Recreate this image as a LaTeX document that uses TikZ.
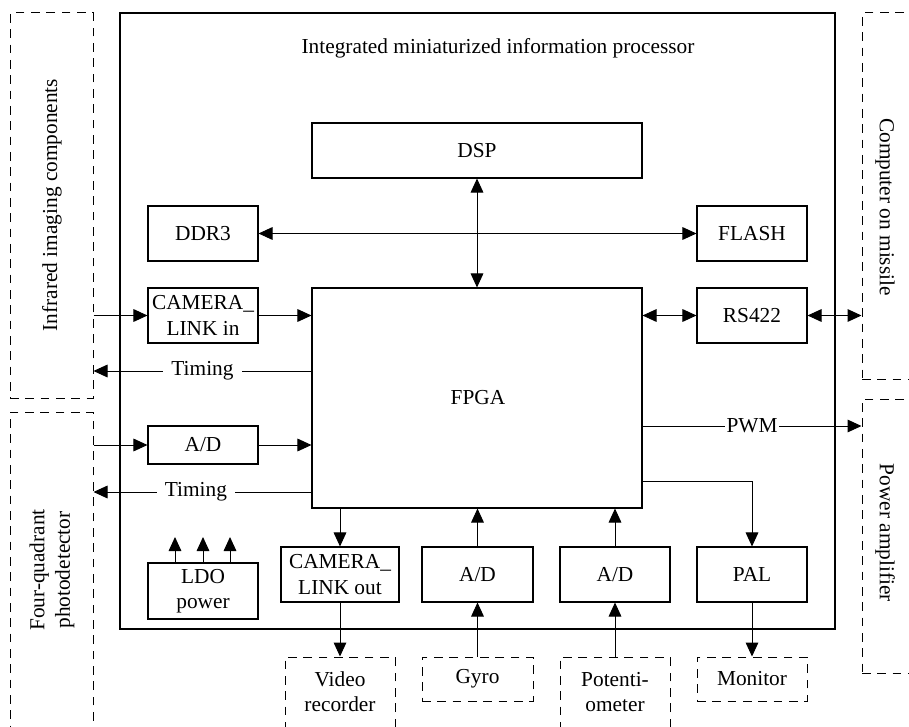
\documentclass[tikz,border=0pt]{standalone}
\usepackage{fontspec}
\setmainfont{Liberation Serif}
\usetikzlibrary{arrows.meta,calc}
\begin{document}
\begin{tikzpicture}[x=0.75pt,y=-0.75pt,
  every node/.style={font=\fontsize{16}{19}\selectfont},
  blk/.style={draw,line width=0.8pt,minimum width=82.5pt,minimum height=41.25pt,inner sep=1pt,align=center},
  ext/.style={draw,dashed,dash pattern=on 6.5pt off 5pt,line width=0.75pt,inner sep=0pt,align=center},
  conn/.style={line width=0.75pt,-{Triangle[length=10.5pt,width=9.5pt]}},
  bconn/.style={line width=0.75pt,{Triangle[length=10.5pt,width=9.5pt]}-{Triangle[length=10.5pt,width=9.5pt]}},
  lbl/.style={fill=white,inner ysep=3pt,inner xsep=6pt}]
\clip (0,0) rectangle (909,727);
\fill[white] (0,0) rectangle (909,727);
% main processor box
\node[draw,line width=0.8pt,minimum width=536.25pt,minimum height=462pt,inner sep=0pt] (proc) at (477.5,321) {};
\node (proct) at (498,48) {Integrated miniaturized information processor};
% inner blocks
\node[blk,minimum width=247.5pt] (dsp) at (477,150.5) {DSP};
\node[blk] (ddr) at (203,233.5) {DDR3};
\node[blk] (flash) at (752,233.5) {FLASH};
\node[blk] (camin) at (203,315.5) {CAMERA\_\\ LINK in};
\node[blk,minimum width=247.5pt,minimum height=165pt] (fpga) at (477,398) {};
\node (fpgat) at (478,398) {FPGA};
\node[blk] (rs) at (752,315.5) {RS422};
\node[blk,minimum height=28.5pt] (adl) at (203,445) {A/D};
\node[blk,minimum height=42pt] (ldo) at (203,591) {LDO\\power};
\node[blk,minimum width=88.5pt] (camout) at (340,574.5) {CAMERA\_\\LINK out};
\node[blk,minimum width=83.25pt] (adg) at (477.5,574.5) {A/D};
\node[blk] (adp) at (615,574.5) {A/D};
\node[blk] (pal) at (752,574.5) {PAL};
% external blocks
\node[ext,minimum width=62.25pt,minimum height=288.75pt] (ir) at (51.5,205.5) {};
\node[rotate=90] (irt) at (52,205) {Infrared imaging components};
\node[ext,minimum width=62.25pt,minimum height=249.75pt] (fq) at (51.5,578.5) {};
\node[rotate=90,align=center] (fqt) at (52,570) {Four-quadrant\\photodetector};
\node[ext,minimum width=51pt,minimum height=274.5pt] (comp) at (896,196) {};
\node[rotate=-90] (compt) at (885,207) {Computer on missile};
\node[ext,minimum width=51pt,minimum height=205.5pt] (pamp) at (896,536) {};
\node[rotate=-90] (pampt) at (885,533) {Power amplifier};
\node[ext,minimum width=82.5pt,minimum height=62.25pt] (video) at (340,698.5) {};
\node[align=center] (videot) at (340,692) {Video\\recorder};
\node[ext,minimum width=83.25pt,minimum height=33pt] (gyro) at (477.5,679) {Gyro};
\node[ext,minimum width=82.5pt,minimum height=62.25pt] (pot) at (615,698.5) {};
\node[align=center] (pott) at (615,692) {Potenti-\\ometer};
\node[ext,minimum width=82.5pt,minimum height=33pt] (mon) at (752,679) {Monitor};
% helper coordinates
\coordinate (t1) at (0,371);
\coordinate (t2) at (0,492);
\coordinate (pw) at (0,426);
\coordinate (pl) at (0,481);
% connectors
\draw[bconn] (ddr.east) -- (flash.west);
\draw[bconn] (dsp.south) -- (fpga.north);
\draw[conn] (camin.west -| ir.east) -- (camin.west);
\draw[conn] (camin.east) -- (camin.east -| fpga.west);
\draw[conn] (fpga.west |- t1) -- node[lbl,pos=0.5]{Timing} (ir.east |- t1);
\draw[conn] (adl.west -| fq.east) -- (adl.west);
\draw[conn] (adl.east) -- (adl.east -| fpga.west);
\draw[conn] (fpga.west |- t2) -- node[lbl,pos=0.53]{Timing} (fq.east |- t2);
\draw[bconn] (rs.west -| fpga.east) -- (rs.west);
\draw[bconn] (rs.east) -- (rs.east -| comp.west);
\draw[conn] (fpga.east |- pw) -- node[fill=white,inner sep=1pt]{PWM} (pamp.west |- pw);
\draw[conn] (fpga.east |- pl) -| (pal.north);
\draw[conn] (pal.south) -- (mon.north);
\draw[conn] (camout.north |- fpga.south) -- (camout.north);
\draw[conn] (camout.south) -- (video.north);
\draw[conn] (gyro.north) -- (adg.south);
\draw[conn] (adg.north) -- (adg.north |- fpga.south);
\draw[conn] (pot.north) -- (adp.south);
\draw[conn] (adp.north) -- (adp.north |- fpga.south);
\foreach \xx in {175,203,230}{
  \draw[conn] (ldo.north -| \xx,0) -- (\xx,537);
}
\end{tikzpicture}
\end{document}
